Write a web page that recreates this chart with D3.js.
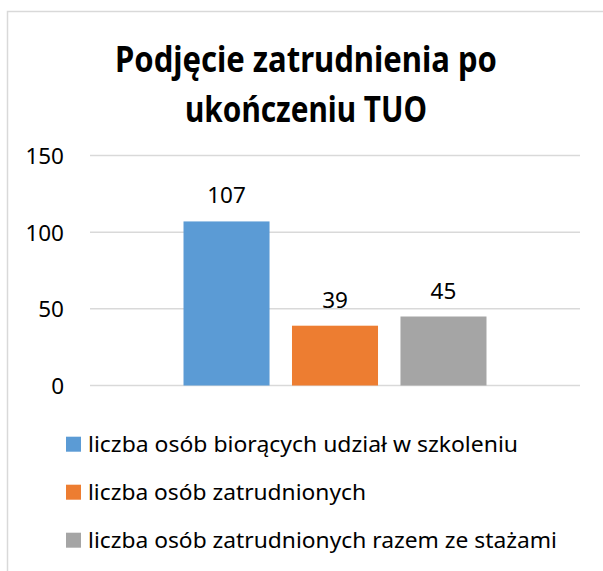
<!DOCTYPE html>
<html>
<head>
<meta charset="utf-8">
<script src="https://cdn.jsdelivr.net/npm/d3@7/dist/d3.min.js"></script>
<style>
  html, body { margin: 0; padding: 0; background: #fff; }
  svg { display: block; font-family: "Noto Sans", "Open Sans", sans-serif; }
</style>
</head>
<body>
<div id="chart"></div>
<script>
"use strict";

// chart data
var titleLines = ["Podjęcie zatrudnienia po", "ukończeniu TUO"];
var category = ["TUO"];
var seriesNames = [
  "liczba osób biorących udział w szkoleniu",
  "liczba osób zatrudnionych",
  "liczba osób zatrudnionych razem ze stażami"
];
var seriesValues = [107, 39, 45];
var seriesColors = ["#5B9BD5", "#ED7D31", "#A5A5A5"];
var yTicks = [0, 50, 100, 150];

var width = 603, height = 571;
var margin = { left: 90, right: 23, top: 155.5, bottom: 185.5 };
var plotW = width - margin.left - margin.right;
var plotH = height - margin.top - margin.bottom;

var titleWidths = [382, 242];
var legendWidths = [430, 278, 469];

var svg = d3.select("#chart").append("svg")
  .attr("width", width)
  .attr("height", height);

// outer frame
svg.append("rect")
  .attr("x", 7.5).attr("y", 11.5)
  .attr("width", 800).attr("height", 800)
  .attr("fill", "none")
  .attr("stroke", "#D9D9D9")
  .attr("stroke-width", 1.5);

// title
svg.append("g").attr("class", "title")
  .selectAll("text")
  .data(titleLines)
  .enter().append("text")
    .attr("x", 306)
    .attr("y", function(d, i) { return 71.5 + i * 50; })
    .attr("text-anchor", "middle")
    .attr("font-weight", "bold")
    .attr("font-size", 35)
    .attr("textLength", function(d, i) { return titleWidths[i]; })
    .attr("lengthAdjust", "spacingAndGlyphs")
    .attr("fill", "#000")
    .text(function(d) { return d; });

var x0 = d3.scaleBand().domain(category).range([0, plotW]);
var x1 = d3.scaleBand().domain(seriesNames)
  .range([0, x0.bandwidth()])
  .paddingInner(0.207)
  .paddingOuter(0.862);
var y = d3.scaleLinear().domain([0, 150]).range([plotH, 0]);

var g = svg.append("g")
  .attr("transform", "translate(" + margin.left + "," + margin.top + ")");

// gridlines
g.selectAll(".grid")
  .data(yTicks)
  .enter().append("line")
    .attr("class", "grid")
    .attr("x1", 0).attr("x2", plotW)
    .attr("y1", function(d) { return y(d); })
    .attr("y2", function(d) { return y(d); })
    .attr("stroke", "#D9D9D9")
    .attr("stroke-width", 1.5);

// y axis
var yAxis = g.append("g")
  .attr("class", "axis axis--y")
  .attr("transform", "translate(-26,0)")
  .call(d3.axisLeft(y).tickValues(yTicks).tickSize(0).tickPadding(0));
yAxis.select(".domain").remove();
yAxis.selectAll("text")
  .attr("font-size", 22.5)
  .attr("font-family", "Noto Sans, sans-serif")
  .attr("fill", "#000")
  .attr("dy", "0.36em");

// bars
var bars = g.selectAll(".bar")
  .data(seriesValues)
  .enter().append("g")
    .attr("transform", "translate(" + x0(category[0]) + ",0)");

bars.append("rect")
  .attr("class", "bar")
  .attr("x", function(d, i) { return x1(seriesNames[i]); })
  .attr("y", function(d) { return y(d); })
  .attr("width", x1.bandwidth())
  .attr("height", function(d) { return plotH - y(d); })
  .attr("fill", function(d, i) { return seriesColors[i]; });

bars.append("text")
  .attr("x", function(d, i) { return x1(seriesNames[i]) + x1.bandwidth() / 2; })
  .attr("y", function(d) { return y(d) - 18; })
  .attr("text-anchor", "middle")
  .attr("font-size", 22.5)
  .attr("fill", "#000")
  .text(function(d) { return d; });

// legend
var items = svg.append("g").attr("class", "legend")
  .selectAll(".item")
  .data(seriesNames)
  .enter().append("g")
    .attr("class", "item")
    .attr("transform", function(d, i) { return "translate(66," + (436.7 + i * 48) + ")"; });

items.append("rect")
  .attr("width", 15).attr("height", 15)
  .attr("fill", function(d, i) { return seriesColors[i]; });

items.append("text")
  .attr("x", 22).attr("y", 15)
  .attr("font-size", 22.5)
  .attr("textLength", function(d, i) { return legendWidths[i]; })
  .attr("lengthAdjust", "spacingAndGlyphs")
  .attr("fill", "#000")
  .text(function(d) { return d; });
</script>
</body>
</html>
